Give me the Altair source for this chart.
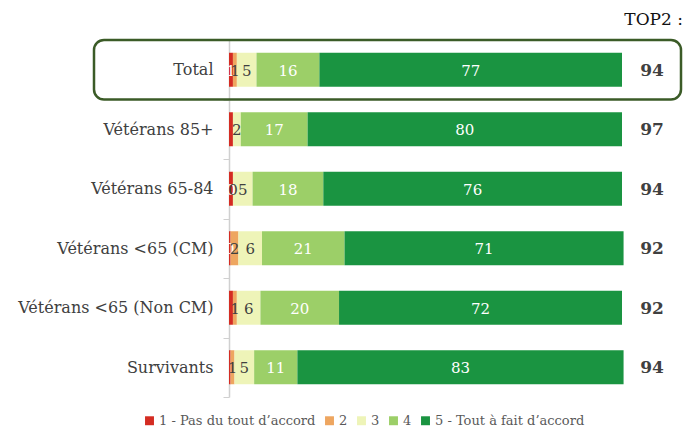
import altair as alt
import pandas as pd

categories = ["Total", "Vétérans 85+", "Vétérans 65-84", "Vétérans <65 (CM)",
              "Vétérans <65 (Non CM)", "Survivants"]
levels = ["1 - Pas du tout d’accord", "2", "3", "4", "5 - Tout à fait d’accord"]
s1 = [1, 1, 1, 0.4, 1, 0.4]
s2 = [1, 0, 0, 2, 1, 1]
s3 = [5, 2, 5, 6, 6, 5]
s4 = [16, 17, 18, 21, 20, 11]
s5 = [77, 80, 76, 71, 72, 83]
top2 = [94, 97, 94, 92, 92, 94]
colors = ["#d42c22", "#eea660", "#eef4b8", "#9ccf68", "#1a9441"]
label_colors = ["#ffffff", "#404040", "#404040", "#ffffff", "#ffffff"]
s1_labels = ["1", "", "0", "0", "", ""]
s2_labels = ["1", "", "0", "2", "1", "1"]

rows = []
for i, c in enumerate(categories):
    vals = [s1[i], s2[i], s3[i], s4[i], s5[i]]
    for j, v in enumerate(vals):
        if j == 0:
            lab = s1_labels[i]
        elif j == 1:
            lab = s2_labels[i]
        else:
            lab = str(v)
        rows.append({"cat": c, "level": levels[j], "order": j, "value": v,
                     "label": lab, "lcol": label_colors[j]})
df = pd.DataFrame(rows)
top_df = pd.DataFrame({"cat": categories, "top2": top2})
box_df = pd.DataFrame({"cat": ["Total"]})

FONT = "DejaVu Serif"

yscale = alt.Scale(domain=categories, paddingInner=0, paddingOuter=0)

base = alt.Chart(df).transform_stack(
    stack="value", groupby=["cat"], sort=[alt.SortField("order")], as_=["x0", "x1"]
)

bars = base.mark_bar(size=34).encode(
    y=alt.Y("cat:N", scale=yscale, sort=categories, title=None,
            axis=alt.Axis(tickBand="extent", labelFont=FONT, labelFontSize=16,
                          labelColor="#404040", domainColor="#d0d0d0",
                          tickColor="#d0d0d0", tickSize=6, labelPadding=10,
                          domainWidth=1.5, labelLimit=0)),
    x=alt.X("x0:Q", scale=alt.Scale(domain=[0, 100], nice=False), axis=None),
    x2="x1:Q",
    color=alt.Color("level:N", scale=alt.Scale(domain=levels, range=colors),
                    legend=alt.Legend(title=None, orient="none", legendX=-86,
                                      legendY=374, direction="horizontal",
                                      symbolType="square", symbolSize=80,
                                      labelFont=FONT, labelFontSize=13,
                                      labelColor="#595959", columnPadding=7,
                                      labelOffset=3, labelLimit=0,
                                      symbolStrokeWidth=0)),
    order=alt.Order("order:Q"),
)

labels = base.transform_calculate(mid="(datum.x0 + datum.x1) / 2").mark_text(
    font=FONT, fontSize=15, baseline="middle", dy=1
).encode(
    y=alt.Y("cat:N", scale=yscale, sort=categories),
    x=alt.X("mid:Q", axis=None),
    text="label:N",
    color=alt.Color("lcol:N", scale=None),
)

tops = alt.Chart(top_df).mark_text(
    font=FONT, fontSize=17, fontWeight="bold", color="#404040", baseline="middle", dy=1
).encode(
    y=alt.Y("cat:N", scale=yscale, sort=categories),
    x=alt.value(423),
    text="top2:Q",
)

header = alt.Chart(top_df).transform_filter("datum.cat == 'Total'").mark_text(
    font=FONT, fontSize=17, color="#111111", baseline="middle", align="right"
).encode(x=alt.value(454), y=alt.value(-20), text=alt.value("TOP2 :"))

box = alt.Chart(box_df).mark_rect(
    filled=False, stroke="#3b5b27", strokeWidth=2.5, cornerRadius=10
).encode(
    y=alt.Y("cat:N", scale=yscale, sort=categories),
    x=alt.value(-135),
    x2=alt.value(452),
)

chart = alt.layer(bars, labels, tops, header, box).properties(
    width=393, height=357,
    background="white",
    autosize=alt.AutoSizeParams(type="none"),
    padding={"left": 221, "top": 32, "right": 62, "bottom": 40},
).configure_view(strokeWidth=0, stroke="transparent")

chart.save("out.html", embed_options={"renderer": "svg", "actions": False})
